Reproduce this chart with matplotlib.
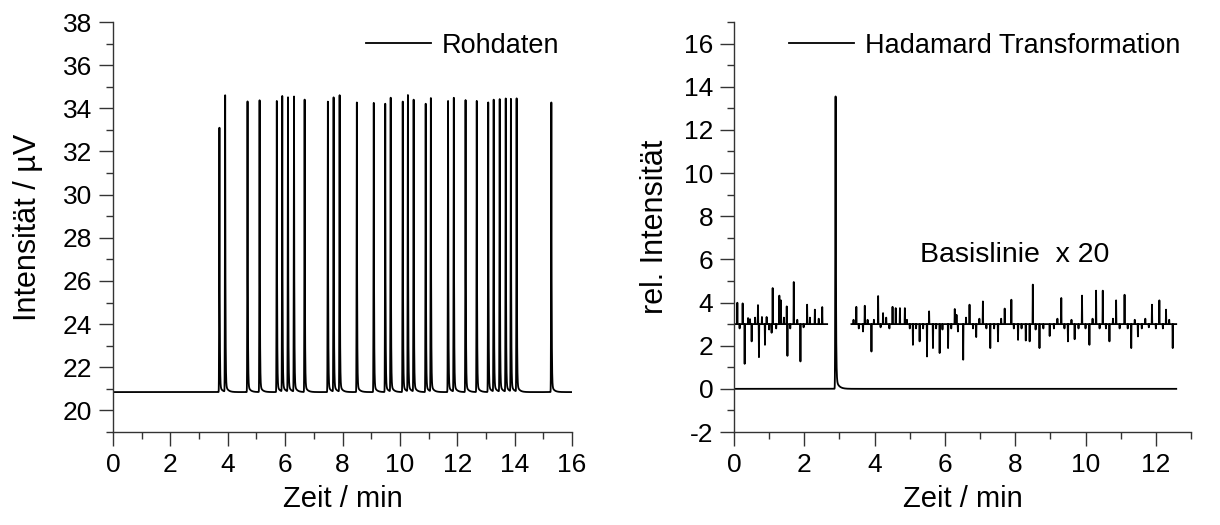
import numpy as np
import matplotlib
matplotlib.use('Agg')
import matplotlib.pyplot as plt
from matplotlib.ticker import MultipleLocator

plt.rcParams['font.family'] = ['Liberation Sans', 'DejaVu Sans']
plt.rcParams['axes.unicode_minus'] = False

# --- raw data (left): baseline and peak list ---
raw_base = 20.85
raw_peak_t = [3.71, 3.91, 4.69, 5.11, 5.71, 5.90, 6.10, 6.31, 6.68, 7.49, 7.69, 7.90,
              8.50, 9.09, 9.49, 9.68, 10.10, 10.28, 10.48, 10.90, 11.08, 11.68, 11.88,
              12.29, 12.68, 13.08, 13.27, 13.48, 13.69, 13.87, 14.07, 15.28]
raw_peak_h = [33.1, 34.58, 34.32, 34.37, 34.34, 34.54, 34.48, 34.52, 34.40, 34.31, 34.48, 34.58,
              34.27, 34.25, 34.21, 34.46, 34.31, 34.58, 34.37, 34.21, 34.44, 34.34, 34.46,
              34.38, 34.34, 34.27, 34.37, 34.40, 34.43, 34.40, 34.43, 34.27]

# --- Hadamard transformation (right) ---
had_end = 12.58
had_peak_t = 2.89
had_peak_h = 13.55

# baseline x 20 trace, two pieces, offset 3
bl_base = 3.0
segA = (0.0, 2.65)
segA_t = [0.095, 0.16, 0.246, 0.303, 0.40, 0.455, 0.502, 0.60, 0.682, 0.710, 0.795, 0.881,
          0.928, 1.00, 1.07, 1.10, 1.20, 1.29, 1.335, 1.42, 1.50, 1.52, 1.60, 1.70, 1.80,
          1.89, 1.98, 2.08, 2.16, 2.30, 2.41, 2.51]
segA_v = [3.99, 2.8, 3.96, 1.16, 3.28, 3.23, 2.2, 3.3, 3.88, 1.47, 3.33, 2.04,
          3.33, 2.75, 2.6, 4.67, 2.8, 4.32, 4.1, 3.3, 3.82, 1.53, 2.8, 4.95, 3.2,
          1.27, 2.85, 3.9, 3.3, 3.67, 3.25, 3.79]
segB = (3.34, 12.58)
segB_t = [3.40, 3.48, 3.55, 3.67, 3.72, 3.80, 3.91, 3.98, 4.10, 4.17, 4.24, 4.33, 4.42, 4.51,
          4.60, 4.72, 4.86, 4.92, 5.00, 5.09, 5.18, 5.28, 5.38, 5.49, 5.55, 5.66, 5.75, 5.85,
          5.93, 6.09, 6.18, 6.28, 6.33, 6.37, 6.52, 6.60, 6.70, 6.80, 6.89, 6.98, 7.08, 7.18,
          7.29, 7.40, 7.51, 7.60, 7.70, 7.89, 7.96, 8.08, 8.18, 8.30, 8.41, 8.50, 8.58, 8.69,
          8.80, 8.98, 9.10, 9.20, 9.31, 9.40, 9.50, 9.60, 9.69, 9.80, 9.90, 10.00, 10.11,
          10.20, 10.30, 10.40, 10.49, 10.58, 10.68, 10.78, 10.87, 10.97, 11.11, 11.20, 11.30,
          11.40, 11.49, 11.60, 11.70, 11.80, 11.89, 12.00, 12.10, 12.20, 12.29, 12.38, 12.48]
segB_v = [3.2, 3.8, 2.8, 2.66, 3.85, 3.2, 1.73, 3.2, 4.3, 2.85, 3.51, 3.3, 2.8, 3.8,
          3.74, 3.74, 3.74, 3.2, 2.8, 2.04, 2.8, 2.2, 2.8, 1.5, 3.59, 1.89, 2.8, 1.66,
          2.75, 1.89, 2.8, 3.7, 3.43, 2.66, 1.35, 3.3, 3.9, 2.8, 2.4, 3.25, 4.05, 2.8,
          1.89, 2.8, 2.2, 3.25, 3.72, 4.13, 2.8, 2.27, 2.8, 2.24, 2.2, 4.83, 2.75, 1.89,
          2.8, 2.45, 2.8, 3.25, 4.21, 2.8, 2.2, 3.2, 2.3, 2.8, 4.32, 2.8, 2.04,
          3.25, 4.55, 2.8, 4.55, 2.8, 2.2, 3.25, 4.1, 2.8, 4.36, 2.8, 1.89,
          3.2, 2.43, 2.8, 3.25, 2.85, 3.9, 2.8, 4.1, 2.8, 3.67, 3.2, 1.89]


def peak_trace(t_end, base, pt, ph, tail=0.03):
    t = np.sort(np.concatenate([np.arange(0, t_end, 0.002), np.array(pt, dtype=float), [t_end]]))
    y = np.full_like(t, base)
    for t0, h in zip(pt, ph):
        dt = t - t0
        amp = h - base
        s = np.where(dt < 0, np.exp(-0.5 * (dt / 0.008) ** 2),
                     (1 - tail) * np.exp(-np.clip(dt, 0, None) / 0.010)
                     + tail * np.exp(-np.clip(dt, 0, None) / 0.08))
        y += amp * s
    return t, y


def spike_trace(seg, base, st, sv, w=0.008):
    xs = [seg[0]]
    ys = [base]
    for t, v in zip(st, sv):
        xs += [t - w, t, t + w]
        ys += [base, v, base]
    xs.append(seg[1])
    ys.append(base)
    return xs, ys


fig = plt.figure(figsize=(12.2, 5.25), dpi=100)
ax1 = fig.add_axes([113 / 1220, 1 - 432 / 525, 459 / 1220, 410 / 525])
ax2 = fig.add_axes([734 / 1220, 1 - 432 / 525, 457 / 1220, 410 / 525])

tx, ty = peak_trace(16.0, raw_base, raw_peak_t, raw_peak_h, tail=0.025)
ax1.plot(tx, ty, color='black', lw=1.3, label='Rohdaten')

hx, hy = peak_trace(had_end, 0.0, [had_peak_t], [had_peak_h], tail=0.035)
ax2.plot(hx, hy, color='black', lw=1.3, label='Hadamard Transformation')
for seg, st, sv in [(segA, segA_t, segA_v), (segB, segB_t, segB_v)]:
    bx, by = spike_trace(seg, bl_base, st, sv)
    ax2.plot(bx, by, color='black', lw=1.3)
ax2.text(5.3, 6.2, 'Basislinie  x 20', fontsize=20.5, ha='left', va='center')

ax1.set_xlim(0, 16)
ax1.set_ylim(19, 38)
ax1.xaxis.set_major_locator(MultipleLocator(2))
ax1.xaxis.set_minor_locator(MultipleLocator(1))
ax1.yaxis.set_major_locator(MultipleLocator(2))
ax1.yaxis.set_minor_locator(MultipleLocator(1))
ax1.set_xlabel('Zeit / min', fontsize=21, labelpad=6)
ax1.set_ylabel('Intensität / µV', fontsize=22, labelpad=14)

ax2.set_xlim(0, 13)
ax2.set_ylim(-2, 17)
ax2.xaxis.set_major_locator(MultipleLocator(2))
ax2.xaxis.set_minor_locator(MultipleLocator(1))
ax2.yaxis.set_major_locator(MultipleLocator(2))
ax2.yaxis.set_minor_locator(MultipleLocator(1))
ax2.set_xlabel('Zeit / min', fontsize=21, labelpad=6)
ax2.set_ylabel('rel. Intensität', fontsize=22, labelpad=10)

for ax in (ax1, ax2):
    for side in ('top', 'right'):
        ax.spines[side].set_visible(False)
    for side in ('left', 'bottom'):
        ax.spines[side].set_color('#333333')
        ax.spines[side].set_linewidth(1.0)
    ax.tick_params(which='major', direction='out', length=10, width=1.0,
                   labelsize=19, pad=5, color='#333333')
    ax.tick_params(which='minor', direction='out', length=5, width=1.0, color='#333333')

ax1.legend(loc='upper right', bbox_to_anchor=(0.995, 1.0), frameon=False, fontsize=19.5,
           handlelength=2.4, handletextpad=0.4, borderaxespad=0.0)
ax2.legend(loc='upper right', bbox_to_anchor=(1.0, 1.0), frameon=False, fontsize=19.5,
           handlelength=2.4, handletextpad=0.4, borderaxespad=0.0)

fig.savefig('out.png', dpi=100)
